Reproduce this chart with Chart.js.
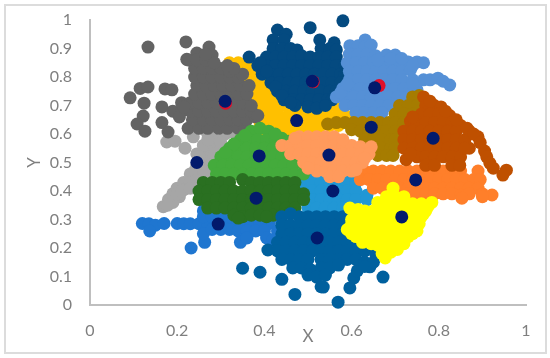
<!DOCTYPE html>
<html>
<head>
<meta charset="utf-8">
<script src="https://cdn.jsdelivr.net/npm/chart.js@4"></script>
<style>
    html, body { margin: 0; padding: 0; background: #fff; }
    #frame { position: absolute; left: 4px; top: 4px; width: 539px; height: 346px; border: 2px solid #dcdcdc; }
    #plot { position: absolute; left: 0; top: 0; }
</style>
</head>
<body>
<div id="frame"></div>
<canvas id="plot" width="550" height="358"></canvas>
<script>
// Axis ticks
const xTicks = [0, 0.2, 0.4, 0.6, 0.8, 1];
const yTicks = [0, 0.1, 0.2, 0.3, 0.4, 0.5, 0.6, 0.7, 0.8, 0.9, 1];

// Clusters as [x, y]
const amber = [
    [.32,.85],[.34,.85],[.36,.84],[.33,.82],[.35,.82],[.37,.82],[.39,.82],[.35,.79],[.37,.79],[.39,.79],[.41,.79],
    [.37,.76],[.39,.76],[.41,.76],[.43,.76],[.38,.73],[.4,.73],[.42,.73],[.44,.73],[.46,.72],[.48,.72],[.5,.72],[.52,.72],
    [.38,.7],[.4,.7],[.42,.7],[.44,.7],[.46,.69],[.48,.69],[.5,.69],[.52,.69],[.54,.69],[.56,.7],[.58,.69],
    [.39,.67],[.41,.67],[.43,.67],[.45,.66],[.47,.66],[.49,.66],[.51,.66],[.53,.66],[.55,.66],[.57,.67],[.595,.66],
    [.39,.64],[.41,.64],[.43,.64],[.45,.63],[.47,.63],[.49,.63],[.51,.63],[.53,.63],[.55,.63],[.57,.63],
    [.4,.61],[.42,.61],[.44,.61],[.46,.61],[.48,.61],[.5,.605],[.52,.605]
];
const navy = [
    [.43,.965],[.45,.95],[.42,.93],[.445,.93],[.505,.973],[.58,.997],[.527,.93],[.56,.92],
    [.42,.9],[.44,.9],[.46,.9],[.475,.895],[.53,.9],[.55,.9],[.565,.895],
    [.365,.87],[.405,.87],[.425,.87],[.445,.87],[.465,.87],[.485,.875],[.505,.87],[.525,.87],[.545,.87],[.565,.87],
    [.385,.84],[.405,.84],[.425,.84],[.445,.84],[.465,.84],[.485,.84],[.505,.84],[.525,.84],[.545,.84],[.565,.84],[.585,.84],
    [.395,.81],[.415,.81],[.435,.81],[.455,.81],[.475,.81],[.495,.81],[.515,.81],[.535,.81],[.555,.81],[.575,.81],[.585,.81],
    [.415,.78],[.435,.78],[.455,.78],[.475,.78],[.495,.78],[.515,.78],[.535,.78],[.555,.78],[.575,.78],
    [.43,.75],[.45,.75],[.47,.75],[.49,.75],[.51,.75],[.53,.75],[.55,.75],[.565,.75],
    [.445,.72],[.465,.72],[.485,.72],[.505,.72],[.525,.72],[.545,.72],[.555,.72],[.47,.7],[.5,.695],[.52,.69],[.54,.7],
    [.39,.85],[.405,.82],[.425,.765],[.44,.735],[.46,.71]
];
const steel = [
    [.631,.93],[.596,.91],[.615,.91],[.63,.905],[.645,.912],
    [.595,.88],[.615,.88],[.635,.88],[.655,.875],[.68,.877],[.70,.877],
    [.59,.85],[.61,.85],[.63,.85],[.65,.85],[.67,.85],[.69,.85],[.71,.85],[.73,.853],[.75,.853],[.765,.85],
    [.595,.82],[.615,.82],[.635,.82],[.655,.82],[.675,.82],[.695,.82],[.715,.82],[.735,.825],
    [.595,.79],[.615,.79],[.635,.79],[.655,.79],[.675,.79],[.695,.79],[.715,.79],[.74,.79],[.765,.79],[.78,.79],[.798,.796],[.825,.772],[.81,.785],
    [.58,.76],[.6,.76],[.62,.76],[.64,.76],[.66,.76],[.68,.76],[.70,.76],[.72,.76],[.75,.755],
    [.565,.73],[.585,.73],[.605,.73],[.625,.73],[.645,.73],[.665,.73],[.685,.73],[.705,.73],[.725,.73],
    [.585,.7],[.605,.7],[.625,.7],[.645,.7],[.665,.7],[.685,.7],[.71,.7],[.61,.675],[.63,.675],[.65,.675],[.67,.675],
    [.66,.86],[.69,.865],[.715,.865],[.74,.84],[.575,.745],[.59,.775],[.735,.76],[.74,.775]
];
const olive = [
    [.74,.73],[.755,.735],[.71,.7],[.73,.7],[.75,.7],[.70,.67],[.72,.67],[.74,.67],
    [.545,.635],[.565,.64],[.585,.64],[.605,.64],[.625,.64],[.645,.64],[.665,.64],[.685,.64],[.70,.64],[.72,.64],[.74,.645],
    [.60,.615],[.62,.61],[.64,.61],[.66,.61],[.68,.61],[.70,.61],[.63,.58],[.65,.58],[.67,.58],[.69,.58],[.70,.58],
    [.65,.55],[.67,.55],[.69,.55],[.70,.55],[.66,.525],[.68,.525],[.695,.525]
];
const lightGray = [
    [.168,.345],[.18,.37],[.19,.39],[.2,.41],[.215,.43],[.23,.46],[.245,.49],[.26,.52],[.27,.55],[.285,.58],[.31,.6],[.33,.605],
    [.237,.59],[.176,.572],[.195,.575],[.218,.55],[.19,.36],[.205,.38],[.22,.41],[.235,.43],[.25,.46],[.265,.49],[.275,.47],
    [.245,.53],[.26,.56],[.27,.6],[.29,.55],[.3,.57],[.2,.39],[.215,.405],[.23,.43],[.24,.47],[.255,.5],[.275,.52],
    [.178,.35],[.21,.4],[.23,.41],[.245,.44],[.26,.47],[.28,.5],[.285,.53],[.27,.58],[.25,.52]
];
const darkGray = [
    [.133,.905],[.22,.923],[.273,.905],[.222,.862],[.245,.884],[.28,.877],
    [.092,.727],[.115,.76],[.133,.765],[.124,.708],[.172,.758],[.188,.755],[.122,.663],[.108,.635],[.126,.61],[.165,.64],[.179,.607],[.165,.695],
    [.225,.62],[.25,.62],[.27,.62],[.295,.62],[.315,.62],[.34,.62],[.355,.62],
    [.235,.65],[.26,.65],[.28,.65],[.3,.65],[.32,.65],[.34,.65],[.36,.65],[.38,.66],
    [.19,.68],[.21,.68],[.23,.68],[.25,.68],[.27,.68],[.29,.68],[.31,.68],[.33,.68],[.35,.68],[.37,.68],[.385,.665],
    [.21,.71],[.23,.71],[.25,.71],[.27,.71],[.29,.71],[.31,.71],[.33,.71],[.35,.71],[.37,.7],
    [.24,.74],[.26,.74],[.28,.74],[.3,.74],[.32,.74],[.34,.74],[.36,.74],
    [.245,.77],[.265,.77],[.285,.77],[.305,.77],[.325,.77],[.345,.77],[.365,.77],
    [.24,.8],[.26,.8],[.28,.8],[.3,.8],[.32,.8],[.34,.8],[.35,.81],
    [.24,.83],[.26,.83],[.28,.83],[.3,.83],[.32,.82],[.225,.86],[.245,.86],[.265,.86],[.285,.85],
    [.265,.88],[.33,.83],[.315,.84],[.205,.66],[.215,.695]
];
const midBlue = [
    [.12,.286],[.135,.285],[.15,.28],[.137,.26],[.17,.286],[.2,.286],[.215,.285],[.23,.285],[.25,.285],[.27,.285],[.29,.285],[.31,.285],[.33,.285],
    [.35,.285],[.37,.285],[.39,.285],[.41,.285],[.44,.285],[.232,.2],[.263,.22],[.26,.25],[.28,.265],[.3,.265],[.32,.265],[.34,.26],[.36,.26],[.38,.26],[.4,.26],[.43,.26],
    [.345,.22],[.36,.235],[.405,.235],[.42,.23],[.26,.33],[.26,.31],[.28,.31],[.3,.31],[.32,.31],[.4,.31],[.42,.31]
];
const lightBlue = [
    [.5,.46],[.52,.46],[.54,.46],[.56,.46],[.58,.46],[.6,.46],[.49,.43],[.51,.43],[.53,.43],[.55,.43],[.57,.43],[.59,.43],[.61,.43],
    [.49,.4],[.51,.4],[.53,.4],[.55,.4],[.57,.4],[.59,.4],[.61,.4],[.635,.385],[.49,.37],[.51,.37],[.53,.37],[.55,.37],[.57,.37],[.59,.37],[.61,.37],[.635,.37],
    [.5,.34],[.52,.34],[.54,.34],[.56,.34],[.58,.34],[.6,.34],[.5,.31],[.53,.31],[.56,.31],[.58,.31]
];
const orange = [
    [.63,.47],[.65,.47],[.67,.47],[.69,.47],[.71,.47],[.73,.47],[.75,.47],[.77,.47],[.79,.47],[.81,.47],[.83,.47],[.85,.47],[.89,.47],
    [.62,.44],[.64,.44],[.66,.44],[.68,.44],[.70,.44],[.72,.44],[.74,.44],[.76,.44],[.78,.44],[.8,.44],[.82,.44],[.84,.44],[.86,.44],[.88,.44],[.895,.44],
    [.65,.41],[.67,.41],[.69,.41],[.71,.41],[.73,.41],[.75,.41],[.77,.41],[.79,.41],[.81,.41],[.83,.41],[.85,.41],[.87,.41],[.89,.41],
    [.73,.39],[.75,.39],[.77,.39],[.79,.39],[.81,.39],[.83,.39],[.85,.385],[.87,.39],[.9,.39],[.922,.386],[.853,.375],[.9,.38]
];
const rust = [
    [.765,.73],[.77,.7],[.79,.7],[.805,.695],[.76,.67],[.78,.67],[.8,.67],[.825,.665],
    [.735,.645],[.75,.64],[.77,.64],[.79,.64],[.81,.64],[.83,.64],[.85,.63],
    [.72,.61],[.74,.61],[.76,.61],[.78,.61],[.8,.61],[.82,.61],[.84,.61],[.87,.61],
    [.72,.58],[.74,.58],[.76,.58],[.78,.58],[.8,.58],[.82,.58],[.84,.58],[.86,.58],[.89,.59],
    [.72,.55],[.74,.55],[.76,.55],[.78,.55],[.8,.55],[.82,.55],[.84,.55],[.87,.55],[.905,.54],
    [.725,.51],[.75,.52],[.77,.52],[.79,.52],[.81,.52],[.83,.52],[.85,.52],[.91,.52],
    [.77,.49],[.79,.49],[.83,.49],[.848,.49],[.917,.498],[.925,.48],[.955,.473],[.947,.456],
    [.78,.715],[.815,.68],[.84,.65],[.865,.62],[.88,.6],[.895,.57],[.86,.55],[.74,.66],[.735,.53]
];
const green = [
    [.37,.61],[.39,.62],[.41,.61],[.345,.58],[.365,.58],[.385,.58],[.405,.58],[.425,.58],[.44,.585],
    [.32,.55],[.34,.55],[.36,.55],[.38,.55],[.4,.55],[.42,.55],[.44,.55],[.46,.55],
    [.3,.52],[.32,.52],[.34,.52],[.36,.52],[.38,.52],[.4,.52],[.42,.52],[.44,.52],[.46,.52],[.475,.52],
    [.285,.49],[.305,.49],[.325,.49],[.345,.49],[.365,.49],[.385,.49],[.405,.49],[.425,.49],[.445,.49],[.465,.49],[.49,.49],
    [.29,.46],[.31,.46],[.33,.46],[.35,.46],[.37,.46],[.39,.46],[.41,.46],[.43,.46],[.45,.46],[.47,.46],[.49,.46],
    [.31,.535],[.33,.565],[.355,.595],[.425,.6],[.455,.575],[.48,.535]
];
const salmon = [
    [.48,.59],[.5,.59],[.52,.59],[.54,.59],[.56,.59],[.44,.56],[.46,.56],[.48,.56],[.5,.56],[.52,.56],[.54,.56],[.56,.56],[.58,.56],[.6,.56],[.62,.555],[.645,.555],
    [.46,.53],[.48,.53],[.5,.53],[.52,.53],[.54,.53],[.56,.53],[.58,.53],[.6,.53],[.62,.53],[.64,.53],
    [.49,.5],[.51,.5],[.53,.5],[.55,.5],[.57,.5],[.59,.5],[.61,.5],[.625,.5],[.52,.47],[.54,.47],[.56,.47],[.58,.47],[.6,.47],[.55,.45],[.57,.45],
    [.58,.58],[.47,.585],[.5,.48],[.63,.515],[.61,.475]
];
const darkGreen = [
    [.26,.43],[.28,.43],[.3,.43],[.32,.43],[.35,.44],[.37,.43],[.39,.43],[.41,.43],[.43,.43],[.45,.43],[.47,.43],
    [.25,.4],[.27,.4],[.29,.4],[.31,.4],[.33,.4],[.35,.4],[.37,.4],[.39,.4],[.41,.4],[.43,.4],[.45,.4],[.47,.4],[.49,.39],
    [.25,.37],[.27,.37],[.29,.37],[.31,.37],[.33,.37],[.35,.37],[.37,.37],[.39,.37],[.41,.37],[.43,.37],[.45,.37],[.47,.37],[.49,.37],
    [.27,.34],[.29,.34],[.31,.34],[.33,.34],[.35,.34],[.37,.34],[.39,.34],[.41,.34],[.43,.34],[.45,.34],[.47,.34],
    [.33,.315],[.35,.31],[.37,.315],[.39,.315],[.42,.315],[.44,.315],[.46,.325],[.34,.305],[.405,.31]
];
const deepBlue = [
    [.35,.129],[.39,.115],[.44,.09],[.47,.037],[.408,.193],[.53,.064],[.672,.098],[.569,.01],[.535,.063],[.596,.06],[.605,.095],[.613,.12],[.642,.134],
    [.44,.31],[.46,.32],[.48,.31],[.5,.31],[.52,.31],[.54,.31],[.56,.31],[.58,.31],
    [.44,.28],[.46,.28],[.48,.28],[.5,.28],[.52,.28],[.54,.28],[.56,.28],[.58,.28],[.59,.28],
    [.44,.25],[.46,.25],[.48,.25],[.5,.25],[.52,.25],[.54,.25],[.56,.25],[.58,.25],
    [.43,.22],[.45,.22],[.47,.22],[.49,.22],[.51,.22],[.53,.22],[.55,.22],[.57,.22],[.59,.22],[.61,.22],
    [.43,.19],[.45,.19],[.47,.19],[.49,.19],[.51,.19],[.53,.19],[.55,.19],[.57,.19],[.59,.19],[.61,.19],[.63,.19],[.655,.18],
    [.44,.16],[.46,.16],[.48,.16],[.5,.16],[.53,.16],[.55,.16],[.57,.16],[.59,.16],[.61,.16],[.63,.15],[.65,.15],
    [.465,.13],[.485,.13],[.505,.125],[.53,.13],[.55,.13],[.57,.14],[.63,.135],[.5,.105],[.52,.098],[.54,.105]
];
const yellow = [
    [.695,.41],[.68,.38],[.70,.38],[.72,.38],[.66,.36],[.68,.355],[.70,.355],[.72,.355],[.74,.355],[.76,.355],[.784,.36],
    [.596,.34],[.615,.335],[.63,.33],[.65,.33],[.67,.33],[.69,.33],[.71,.33],[.73,.33],[.75,.33],[.77,.33],
    [.6,.3],[.62,.3],[.64,.3],[.66,.3],[.68,.3],[.70,.3],[.72,.3],[.74,.3],[.76,.31],[.61,.31],
    [.59,.265],[.61,.27],[.63,.27],[.65,.27],[.67,.27],[.69,.27],[.71,.27],[.73,.27],[.75,.26],
    [.61,.24],[.63,.24],[.65,.24],[.67,.24],[.69,.24],[.71,.24],[.73,.24],[.66,.21],[.68,.21],[.7,.21],[.72,.215],[.67,.18],[.69,.185],[.677,.165],
    [.775,.345],[.765,.32],[.755,.285],[.74,.25],[.705,.195],[.6,.285],[.6,.25],[.625,.22],[.645,.215],[.64,.245]
];
const redDots = [[.663,.77],[.311,.708],[.512,.783]];
const centroids = [
    [.31,.715],[.474,.647],[.51,.785],[.653,.762],[.645,.624],[.787,.585],[.548,.526],[.388,.523],
    [.245,.5],[.381,.375],[.557,.4],[.747,.439],[.715,.309],[.294,.284],[.521,.235]
];

// Drawn bottom to top
const layers = [
    [amber, "#ffc000"], [navy, "#044a80"], [steel, "#5590d6"], [olive, "#a67c00"],
    [lightGray, "#a6a6a6"], [darkGray, "#636363"], [midBlue, "#1f76d0"], [lightBlue, "#2197d5"],
    [orange, "#ff7f2a"], [rust, "#bf5000"], [green, "#44ab3c"], [salmon, "#ff9a5c"],
    [darkGreen, "#2a7021"], [deepBlue, "#00609e"], [yellow, "#ffff00"],
    [redDots, "#e0102a"], [centroids, "#021a6c"],
];

const labelColor = "#7f7f7f";
const axisColor = "#bfbfbf";

new Chart(document.getElementById("plot").getContext("2d"), {
    type: "scatter",
    data: {
        datasets: layers.map(([points, color], i) => ({
            data: points.map(([x, y]) => ({ x, y })),
            backgroundColor: color,
            pointBackgroundColor: color,
            pointBorderColor: color,
            pointBorderWidth: 0,
            pointRadius: 6.5,
            order: layers.length - i, // lower order sits on top
            clip: false,
        })),
    },
    options: {
        responsive: false,
        animation: false,
        layout: { autoPadding: false, padding: { top: 20, right: 24, left: 0, bottom: 0 } },
        plugins: { legend: { display: false }, tooltip: { enabled: false } },
        scales: {
            x: {
                type: "linear",
                min: 0,
                max: 1,
                afterFit: (scale) => { scale.height = 53; },
                afterBuildTicks: (scale) => { scale.ticks = xTicks.map((value) => ({ value })); },
                grid: { display: false, drawTicks: false },
                border: { color: axisColor, width: 2 },
                ticks: { color: labelColor, font: { family: "Lato", size: 16 }, padding: 16, maxRotation: 0, callback: (value) => String(value) },
                title: { display: true, text: "X", color: labelColor, font: { family: "Lato", size: 17 }, padding: { top: 0, bottom: 11 } },
            },
            y: {
                type: "linear",
                min: 0,
                max: 1,
                afterFit: (scale) => {
                    scale.width = 90;
                    // tick padding would otherwise push the top of the axis down
                    scale.paddingTop = 0;
                    scale.paddingBottom = 0;
                },
                afterBuildTicks: (scale) => { scale.ticks = yTicks.map((value) => ({ value })); },
                grid: { display: false, drawTicks: false },
                border: { color: axisColor, width: 2 },
                ticks: { color: labelColor, font: { family: "Lato", size: 16 }, padding: 18, callback: (value) => String(value) },
                title: { display: true, text: "Y", color: labelColor, font: { family: "Lato", size: 17 }, padding: { top: 24, bottom: 0 } },
            },
        },
    },
});
</script>
</body>
</html>
